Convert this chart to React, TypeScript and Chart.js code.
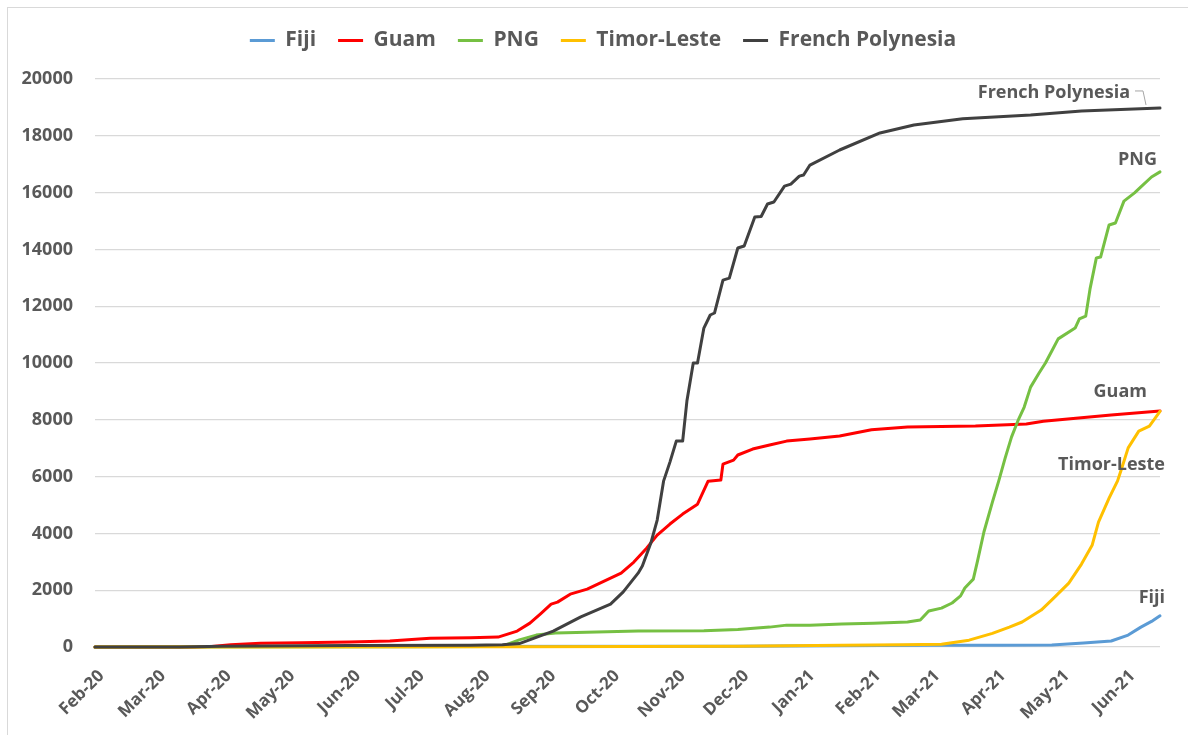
import { useEffect, useRef } from 'react';
import { Chart, registerables } from 'chart.js';

Chart.register(...registerables);

// x values are days counted from 1 Feb 2020
const xMin = -3;
const xMax = 499;

const monthLabels = ['Feb-20', 'Mar-20', 'Apr-20', 'May-20', 'Jun-20', 'Jul-20', 'Aug-20', 'Sep-20', 'Oct-20', 'Nov-20', 'Dec-20', 'Jan-21', 'Feb-21', 'Mar-21', 'Apr-21', 'May-21', 'Jun-21'];
const monthDays = [0, 29, 60, 90, 121, 151, 182, 213, 243, 274, 304, 335, 366, 394, 425, 455, 486];

const yTicks = [0, 2000, 4000, 6000, 8000, 10000, 12000, 14000, 16000, 18000, 20000];

const fijiDays = [-3, 45, 60, 300, 390, 424, 448, 463, 476, 484, 490, 495, 499];
const fijiCases = [0, 5, 18, 30, 60, 60, 70, 140, 210, 420, 700, 900, 1100];

const guamDays = [-3, 43, 52, 61, 75, 94, 117, 136, 148, 155, 174, 187, 196, 202, 207, 212, 215, 221, 229, 237, 245, 251, 257, 262, 268, 274, 281, 286, 292, 293, 298, 300, 307, 315, 323, 334, 348, 363, 380, 412, 436, 444, 476, 499];
const guamCases = [0, 0, 20, 80, 130, 150, 180, 210, 270, 310, 330, 350, 560, 840, 1170, 1510, 1580, 1860, 2040, 2320, 2600, 2990, 3480, 3940, 4330, 4680, 5030, 5840, 5880, 6440, 6580, 6760, 6970, 7110, 7250, 7320, 7430, 7650, 7750, 7780, 7850, 7950, 8170, 8310];

const pngDays = [-3, 147, 182, 189, 197, 205, 214, 253, 284, 300, 315, 323, 334, 349, 364, 380, 386, 390, 396, 401, 405, 407, 411, 413, 416, 420, 423, 426, 429, 432, 435, 438, 442, 445, 448, 451, 459, 461, 464, 466, 469, 471, 475, 478, 482, 487, 490, 495, 499];
const pngCases = [0, 5, 20, 30, 250, 420, 490, 560, 570, 620, 700, 770, 770, 810, 840, 880, 950, 1270, 1370, 1550, 1800, 2080, 2390, 3030, 4050, 5100, 5850, 6650, 7390, 7960, 8450, 9150, 9650, 10000, 10420, 10850, 11230, 11550, 11650, 12600, 13700, 13730, 14860, 14930, 15700, 15990, 16200, 16550, 16730];

const timorDays = [-3, 200, 300, 349, 378, 396, 409, 420, 428, 434, 443, 449, 456, 462, 467, 470, 475, 479, 481, 484, 489, 494, 499];
const timorCases = [0, 10, 30, 60, 80, 100, 240, 480, 700, 880, 1300, 1730, 2250, 2920, 3580, 4400, 5240, 5850, 6300, 7010, 7600, 7780, 8300];

const fpDays = [-3, 37, 57, 117, 174, 189, 197, 213, 226, 240, 246, 253, 255, 259, 262, 265, 268, 271, 274, 276, 279, 281, 284, 287, 289, 293, 296, 300, 303, 308, 311, 314, 317, 322, 325, 329, 331, 334, 348, 367, 383, 406, 438, 462, 499];
const fpCases = [0, 0, 30, 50, 60, 80, 120, 560, 1060, 1510, 1940, 2600, 2850, 3660, 4470, 5840, 6510, 7250, 7250, 8660, 10000, 10000, 11230, 11690, 11760, 12920, 12990, 14050, 14120, 15140, 15160, 15600, 15670, 16230, 16300, 16580, 16620, 16970, 17500, 18100, 18380, 18600, 18730, 18870, 18980];

const seriesNames = ['Fiji', 'Guam', 'PNG', 'Timor-Leste', 'French Polynesia'];

export default function App() {
  const ref = useRef<HTMLCanvasElement | null>(null);

  useEffect(() => {
    const canvas = ref.current;
    if (!canvas) return;
    const FONT = "'Open Sans', 'DejaVu Sans', sans-serif";
    const TEXT = '#595959';
    const PAD_T = 8;
    const LEGEND_LEFT = 46;
    const PLOT_LEFT = 95;
    const PLOT_TOP = 79;
    const XAXIS_H = 88;

    const series = [
      { days: fijiDays, cases: fijiCases, color: '#5B9BD5', order: 5, dx: 5, dy: -18 },
      { days: guamDays, cases: guamCases, color: '#FF0000', order: 4, dx: -13, dy: -19 },
      { days: pngDays, cases: pngCases, color: '#76C043', order: 3, dx: -3, dy: -12 },
      { days: timorDays, cases: timorCases, color: '#FFC000', order: 2, dx: 5, dy: 54 },
      { days: fpDays, cases: fpCases, color: '#404040', order: 1, dx: -30, dy: -15 },
    ];

    const endLabels = {
      id: 'endLabels',
      afterDatasetsDraw(chart: any) {
        const c = chart.ctx as CanvasRenderingContext2D;
        c.save();
        c.font = `bold 18px ${FONT}`;
        c.fillStyle = TEXT;
        c.textAlign = 'right';
        c.textBaseline = 'middle';
        series.forEach((s, i) => {
          const meta = chart.getDatasetMeta(i);
          const pt = meta.data[meta.data.length - 1];
          if (!pt) return;
          c.fillText(seriesNames[i], pt.x + s.dx, pt.y + s.dy);
          if (i === 4) {
            c.strokeStyle = '#A6A6A6';
            c.lineWidth = 1;
            c.beginPath();
            c.moveTo(pt.x - 25, pt.y - 17);
            c.lineTo(pt.x - 17, pt.y - 17);
            c.lineTo(pt.x - 14, pt.y - 3);
            c.stroke();
          }
        });
        c.restore();
      },
    };

    const legendSpace = {
      id: 'legendSpace',
      beforeInit(chart: any) {
        const lg = chart.legend;
        if (!lg) return;
        const orig = lg.fit;
        lg.fit = function () {
          orig.call(this);
          this.height = PLOT_TOP - PAD_T;
        };
      },
      afterLayout(chart: any) {
        const lg = chart.legend;
        if (!lg) return;
        lg.left = LEGEND_LEFT;
        lg.width = lg.right - lg.left;
      },
    };

    const chart = new Chart(canvas, {
      type: 'line',
      data: {
        datasets: series.map((s, i) => ({
          label: seriesNames[i],
          data: s.days.map((d, j) => ({ x: d, y: s.cases[j] })),
          borderColor: s.color,
          backgroundColor: s.color,
          borderWidth: 3,
          pointRadius: 0,
          pointHoverRadius: 0,
          tension: 0,
          fill: false,
          order: s.order,
          clip: false,
          borderCapStyle: 'round',
          borderJoinStyle: 'round',
        })),
      },
      options: {
        responsive: false,
        animation: false,
        layout: { padding: { left: 0, right: 28, top: PAD_T, bottom: 0 } },
        plugins: {
          legend: {
            position: 'top',
            align: 'center',
            labels: {
              boxWidth: 25,
              boxHeight: 3,
              padding: 22,
              color: TEXT,
              font: { family: FONT, size: 21, weight: 'bold' },
              sort: (a: any, b: any) => a.datasetIndex - b.datasetIndex,
              generateLabels: (ch: any) =>
                Chart.defaults.plugins.legend.labels.generateLabels(ch).map((it: any) => ({
                  ...it,
                  lineWidth: 0,
                  fillStyle: it.strokeStyle,
                })),
            },
          },
          tooltip: { enabled: false },
        },
        scales: {
          x: {
            type: 'linear',
            min: xMin,
            max: xMax,
            grid: { display: false },
            border: { display: false },
            afterBuildTicks: (s: any) => {
              s.ticks = monthDays.map((v) => ({ value: v }));
            },
            afterFit: (s: any) => {
              s.height = XAXIS_H;
            },
            ticks: {
              autoSkip: false,
              minRotation: 45,
              maxRotation: 45,
              padding: 11,
              color: TEXT,
              font: { family: FONT, size: 17, weight: 'bold' },
              callback: (_v: any, idx: number) => monthLabels[idx] ?? '',
            },
          },
          y: {
            min: yTicks[0],
            max: yTicks[yTicks.length - 1],
            afterBuildTicks: (s: any) => {
              s.ticks = yTicks.map((v) => ({ value: v }));
            },
            afterFit: (s: any) => {
              s.width = PLOT_LEFT;
            },
            grid: { color: '#D9D9D9', lineWidth: 1.2, drawTicks: false },
            border: { display: false },
            ticks: {
              padding: 22,
              color: TEXT,
              font: { family: FONT, size: 18, weight: 'bold' },
              callback: (v: any) => String(v),
            },
          },
        },
      },
      plugins: [legendSpace, endLabels],
    } as any);

    return () => chart.destroy();
  }, []);

  return (
    <div style={{ position: 'absolute', left: 0, top: 0, width: 1188, height: 735, overflow: 'hidden', background: '#fff' }}>
      <div style={{ position: 'absolute', left: 7, top: 7, width: 1200, height: 760, borderLeft: '1px solid #D9D9D9', borderTop: '1px solid #D9D9D9' }} />
      <canvas ref={ref} width={1188} height={735} style={{ position: 'absolute', left: 0, top: 0, display: 'block' }} />
    </div>
  );
}
